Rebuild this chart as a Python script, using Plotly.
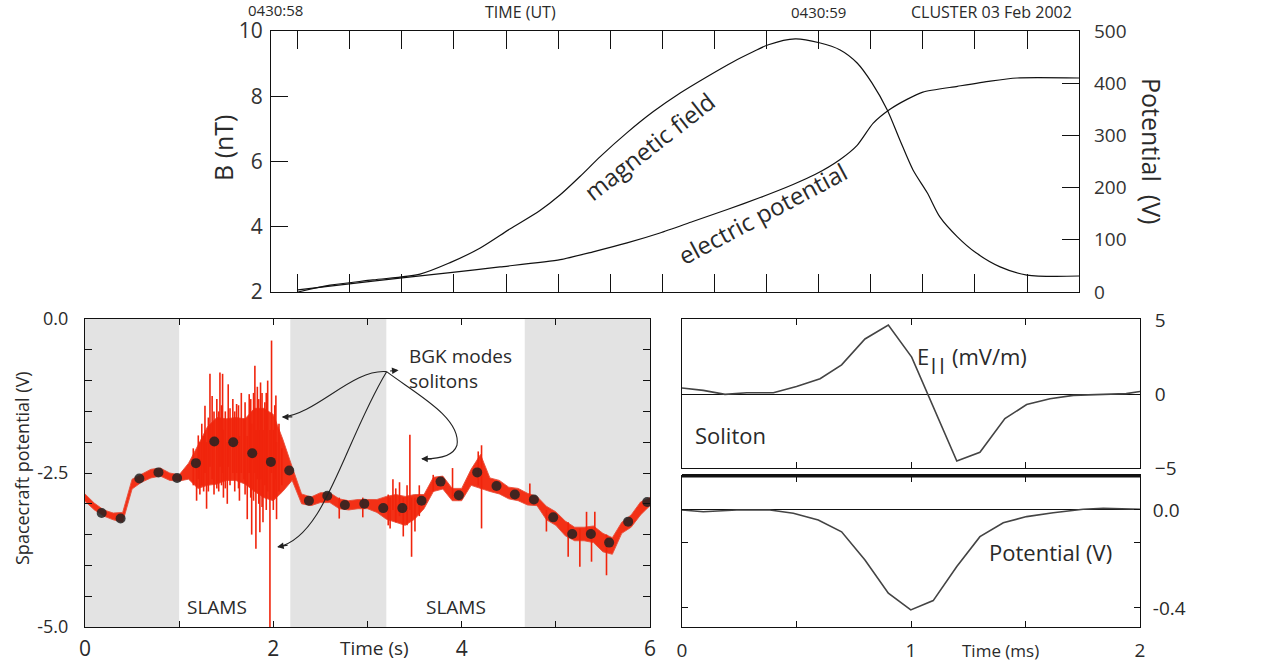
import plotly.graph_objects as go

W, H = 1287, 669
def px(x): return x / W
def py(y): return 1 - y / H

# ---------------- top panel data (seconds after 04:30:58) ----------------
b_t = [0.049, 0.108, 0.186, 0.272, 0.327, 0.382, 0.436, 0.491, 0.528, 0.564, 0.601, 0.649,
       0.698, 0.747, 0.796, 0.844, 0.881, 0.908, 0.957, 1.001, 1.039, 1.070, 1.097, 1.125,
       1.148, 1.172, 1.198, 1.221, 1.253, 1.287, 1.331, 1.380, 1.475]
b_nT = [2.0, 2.21, 2.37, 2.55, 2.90, 3.35, 3.93, 4.50, 4.98, 5.54, 6.15, 6.87,
        7.53, 8.10, 8.60, 9.06, 9.37, 9.58, 9.76, 9.64, 9.42, 9.02, 8.41, 7.58,
        6.66, 5.74, 5.04, 4.30, 3.69, 3.20, 2.77, 2.52, 2.49]
phi_t = [0.049, 0.186, 0.327, 0.418, 0.528, 0.588, 0.650, 0.710, 0.770, 0.833, 0.893,
         0.953, 0.993, 1.039, 1.070, 1.099, 1.130, 1.161, 1.190, 1.253, 1.313, 1.362, 1.475]
phi_V = [4, 21, 37, 48, 62, 77, 94, 113, 135, 158, 181,
         206, 225, 254, 281, 323, 350, 369, 383, 394, 404, 410, 410]
b_ticks = [2, 4, 6, 8, 10]
phi_ticks = [0, 100, 200, 300, 400, 500]

# ---------------- bottom-left: spacecraft potential ----------------
sc_t = [round(0.1 * i, 1) for i in range(61)]
sc_upper = [-2.84, -2.99, -3.10, -3.15, -3.14, -2.60, -2.52, -2.44, -2.42, -2.50,
            -2.53, -2.34, -2.05, -1.75, -1.60, -1.62, -1.60, -1.62, -1.45, -1.45,
            -1.55, -1.95, -2.40, -2.84, -2.89, -2.82, -2.82, -2.92, -2.95, -2.93,
            -2.93, -2.93, -2.88, -2.85, -2.88, -2.85, -2.85, -2.57, -2.55, -2.75,
            -2.75, -2.44, -2.20, -2.58, -2.62, -2.73, -2.75, -2.83, -2.88, -3.04,
            -3.13, -3.28, -3.38, -3.38, -3.36, -3.48, -3.55, -3.30, -3.18, -2.97, -2.90]
sc_lower = [-2.96, -3.10, -3.20, -3.26, -3.30, -2.76, -2.65, -2.58, -2.55, -2.62,
            -2.63, -2.60, -2.75, -2.70, -2.68, -2.62, -2.62, -2.68, -2.80, -2.90,
            -2.95, -2.80, -2.62, -3.00, -3.03, -2.98, -2.98, -3.08, -3.10, -3.08,
            -3.08, -3.14, -3.25, -3.30, -3.35, -3.25, -3.08, -2.80, -2.76, -2.95,
            -2.95, -2.70, -2.75, -2.80, -2.84, -2.92, -2.95, -3.02, -3.03, -3.26,
            -3.35, -3.52, -3.60, -3.60, -3.63, -3.78, -3.82, -3.48, -3.38, -3.18, -3.03]
spike_t = [1.15, 1.185, 1.203, 1.22, 1.24, 1.26, 1.274, 1.291, 1.31, 1.327, 1.35, 1.37, 1.40, 1.42,
           1.433, 1.45, 1.461, 1.47, 1.49, 1.511, 1.521, 1.54, 1.57, 1.59, 1.61, 1.63, 1.64, 1.66,
           1.688, 1.70, 1.723, 1.744, 1.76, 1.77, 1.79, 1.804, 1.815, 1.83, 1.845, 1.857, 1.864,
           1.88, 1.89, 1.91, 1.925, 1.94, 1.964, 1.981, 2.0, 2.015, 2.027, 2.034, 2.06, 2.09,
           2.70, 2.95, 3.22, 3.24, 3.27, 3.30, 3.34, 3.38, 3.42, 3.45, 3.468, 3.504, 3.55, 3.698,
           3.903, 4.176, 4.211, 4.724, 4.90, 5.131, 5.255, 5.326, 5.379, 5.414, 5.538]
spike_hi = [-2.1, -2.3, -1.89, -2.0, -1.70, -1.9, -1.41, -2.0, -1.6, -0.89, -1.25, -1.5, -1.30, -1.5,
            -0.87, -1.4, -0.89, -1.8, -1.5, -2.0, -1.06, -1.45, -1.30, -1.5, -1.38, -1.4, -1.9, -1.20,
            -1.62, -1.35, -1.9, -1.22, -1.3, -1.7, -1.2, -0.76, -1.8, -1.10, -1.3, -1.8, -1.03,
            -1.2, -1.8, -1.35, -1.2, -1.0, -1.8, -0.35, -1.8, -1.4, -1.24, -2.0, -1.7, -2.1,
            -2.9, -2.9, -2.85, -2.9, -2.6, -2.75, -2.65, -2.9, -2.7, -1.88, -2.9, -2.9, -2.7, -2.53,
            -2.42, -2.15, -2.05, -2.67, -3.1, -3.3, -3.4, -3.13, -3.4, -3.13, -3.5]
spike_lo = [-2.7, -2.95, -2.6, -2.85, -2.7, -2.8, -2.5, -3.08, -2.8, -2.4, -2.6, -2.85, -2.75, -2.8,
            -2.4, -2.7, -2.5, -2.9, -2.75, -3.0, -2.4, -2.7, -2.5, -2.8, -2.5, -2.75, -2.95, -2.5,
            -2.6, -2.85, -3.25, -2.5, -2.9, -3.5, -2.95, -2.5, -3.73, -2.6, -3.0, -3.46, -2.6,
            -3.05, -3.3, -2.7, -3.1, -2.8, -5.0, -2.5, -3.1, -2.9, -2.6, -3.25, -2.8, -2.7,
            -3.24, -3.22, -3.35, -3.4, -3.1, -3.3, -3.2, -3.53, -3.35, -3.1, -3.86, -3.45, -3.2, -2.8,
            -2.9, -2.7, -3.40, -3.0, -3.45, -3.86, -4.02, -3.5, -3.94, -3.5, -4.16]
dot_t = [0.177, 0.378, 0.577, 0.78, 0.978, 1.178, 1.373, 1.574, 1.776, 1.974, 2.169, 2.378,
         2.573, 2.76, 2.966, 3.167, 3.37, 3.574, 3.776, 3.97, 4.165, 4.37, 4.565, 4.767,
         4.972, 5.174, 5.372, 5.566, 5.768, 5.97]
dot_V = [-3.15, -3.24, -2.59, -2.49, -2.58, -2.34, -1.99, -2.00, -2.18, -2.32, -2.46, -2.95,
         -2.87, -3.02, -3.00, -3.07, -3.07, -2.95, -2.64, -2.86, -2.49, -2.71, -2.85, -2.93,
         -3.22, -3.49, -3.49, -3.63, -3.29, -2.97]
gray_spans = [(0.0, 1.0), (2.18, 3.2), (4.67, 6.0)]
slams_t = [1.40, 3.94]
sc_tickvals = [0.0, -0.5, -1.0, -1.5, -2.0, -2.5, -3.0, -3.5, -4.0, -4.5, -5.0]
sc_ticktext = ["0.0", "", "", "", "", "-2.5", "", "", "", "", "-5.0"]
t_tickvals = [0, 1, 2, 3, 4, 5, 6]
t_ticktext = ["0", "", "2", "", "4", "", "6"]

# ---------------- bottom-right: soliton ----------------
e_t = [0, 0.093, 0.188, 0.283, 0.399, 0.5, 0.603, 0.697, 0.799, 0.901, 1.003, 1.069,
       1.2, 1.301, 1.41, 1.505, 1.607, 1.709, 1.84, 1.94, 2.0]
e_mV = [0.43, 0.27, 0.0, 0.11, 0.11, 0.54, 1.06, 2.0, 3.75, 4.69, 2.52, 0.16,
        -4.51, -3.92, -1.64, -0.69, -0.29, -0.07, -0.02, 0.05, 0.2]
pot_t = [0, 0.093, 0.239, 0.384, 0.486, 0.595, 0.697, 0.799, 0.901, 0.999, 1.097, 1.2,
         1.301, 1.403, 1.505, 1.621, 1.752, 1.84, 2.0]
pot_V = [0, -0.007, 0, 0, -0.013, -0.041, -0.089, -0.204, -0.340, -0.408, -0.370, -0.231,
         -0.109, -0.052, -0.027, -0.011, 0.003, 0.007, 0.003]
pot_tickvals = [0.0, -0.133, -0.4]
pot_ticktext = ["0.0", "", "-0.4"]

FONT = "Open Sans"
TXT = "#2a2a2a"
fig = go.Figure()

# top panel
fig.add_trace(go.Scatter(x=b_t, y=b_nT, mode="lines", line=dict(color="#111", width=1.2, shape="spline", smoothing=0.8),
                         xaxis="x", yaxis="y", showlegend=False, hoverinfo="skip"))
fig.add_trace(go.Scatter(x=phi_t, y=phi_V, mode="lines", line=dict(color="#111", width=1.2, shape="spline", smoothing=0.6),
                         xaxis="x", yaxis="y2", showlegend=False, hoverinfo="skip"))

# bottom-left red band
fig.add_trace(go.Scatter(x=sc_t + sc_t[::-1], y=sc_upper + sc_lower[::-1], mode="lines", fill="toself",
                         fillcolor="rgb(243,48,22)", line=dict(color="rgba(232,80,60,0.9)", width=1),
                         xaxis="x2", yaxis="y3", showlegend=False, hoverinfo="skip"))
sx, sy = [], []
for t, hi, lo in zip(spike_t, spike_hi, spike_lo):
    sx += [t, t, None]
    sy += [lo, hi, None]
fig.add_trace(go.Scatter(x=sx, y=sy, mode="lines", line=dict(color="rgb(240,36,12)", width=1.6),
                         xaxis="x2", yaxis="y3", showlegend=False, hoverinfo="skip"))
fig.add_trace(go.Scatter(x=dot_t, y=dot_V, mode="markers", marker=dict(color="#222", size=10, opacity=0.85),
                         xaxis="x2", yaxis="y3", showlegend=False, hoverinfo="skip"))

# bottom-right
fig.add_trace(go.Scatter(x=e_t, y=e_mV, mode="lines", line=dict(color="#444", width=1.6),
                         xaxis="x3", yaxis="y4", showlegend=False, hoverinfo="skip"))
fig.add_trace(go.Scatter(x=pot_t, y=pot_V, mode="lines", line=dict(color="#444", width=1.6),
                         xaxis="x4", yaxis="y5", showlegend=False, hoverinfo="skip"))

ax_common = dict(showgrid=False, zeroline=False, showline=True, linecolor="#111", automargin=False)
tickf = dict(family=FONT, size=19, color=TXT)

shapes = []
for a, b in gray_spans:
    shapes.append(dict(type="rect", xref="x2", yref="y3", x0=a, x1=b, y0=-5, y1=0,
                       fillcolor="#e3e3e3", line=dict(width=0), layer="below"))
arrow_paths = [
    "M 3.203,-0.855 C 2.85,-0.80 2.45,-1.55 2.10,-1.59",
    "M 3.203,-0.855 C 2.75,-2.0 2.55,-3.55 2.05,-3.70",
    "M 3.203,-0.855 C 3.5,-1.2 4.0,-1.6 3.95,-2.05 Q 3.9,-2.28 3.58,-2.27",
]
for p in arrow_paths:
    shapes.append(dict(type="path", xref="x2", yref="y3", path=p, line=dict(color="#222", width=1.1)))
shapes.append(dict(type="line", xref="paper", yref="paper", x0=px(682), x1=px(1141),
                   y0=py(475.7), y1=py(475.7), line=dict(color="#111", width=3.5)))

ann = []
def A(text, x, y, size, **kw):
    d = dict(text=text, x=x, y=y, showarrow=False, font=dict(family=FONT, size=size, color=TXT),
             xref=kw.pop("xref", "paper"), yref=kw.pop("yref", "paper"),
             xanchor=kw.pop("xanchor", "center"), yanchor=kw.pop("yanchor", "middle"))
    d.update(kw)
    ann.append(d)

A("0430:58", 0.008, py(10), 15, xref="x")
A("TIME (UT)", px(520), py(12), 16)
A("0430:59", 1.0, py(12), 15, xref="x")
A("CLUSTER 03 Feb 2002", px(1074), py(12), 16, xanchor="right")
A("B (nT)", px(223), py(148), 25, textangle=-90)
A("Potential  (V)", px(1152), py(151), 25, textangle=90)
A("magnetic field", px(649), py(147), 24, textangle=-38)
A("electric potential", px(762), py(213), 24, textangle=-28)

A("Spacecraft potential (V)", px(22), py(468), 18, textangle=-90)
A("Time (s)", px(374), py(648), 19)
for t in slams_t:
    A("SLAMS", t, -4.675, 19, xref="x2", yref="y3")
A("BGK modes<br>solitons", 3.42, -0.80, 19, xref="x2", yref="y3", xanchor="left", align="left")
for tip, dx, dy in [((2.09, -1.59), 12, 0), ((2.04, -3.70), 12, -2), ((3.57, -2.27), 12, 0), ((3.33, -0.83), -10, 1)]:
    ann.append(dict(x=tip[0], y=tip[1], xref="x2", yref="y3", ax=dx, ay=dy, text="", showarrow=True,
                    arrowhead=2, arrowsize=1.1, arrowwidth=1.2, arrowcolor="#222", standoff=0))

A("E<sub><b>||</b></sub> (mV/m)", px(915), py(358), 22, xanchor="left")
A("Soliton", px(730), py(435), 22)
A("Potential (V)", px(1050), py(552), 22)
A("Time (ms)", px(1000), py(650), 17)

fig.update_layout(
    width=W, height=H, margin=dict(l=0, r=0, t=0, b=0), template="none",
    paper_bgcolor="white", plot_bgcolor="rgba(0,0,0,0)",
    font=dict(family=FONT, color=TXT),
    shapes=shapes, annotations=ann, showlegend=False,
    xaxis=dict(ax_common, domain=[px(271), px(1079)], anchor="y", range=[0, 1.475], tick0=0.0487, dtick=0.0951,
               ticks="inside", ticklen=18, tickcolor="#111", mirror="ticks", showticklabels=False, linewidth=1.3),
    yaxis=dict(ax_common, domain=[py(292), py(31)], anchor="x", range=[2, 10], tickvals=b_ticks,
               ticks="inside", ticklen=17, tickcolor="#111", tickfont=dict(family=FONT, size=21, color="#333"),
               ticklabelstandoff=3, linewidth=1.3),
    yaxis2=dict(ax_common, overlaying="y", side="right", anchor="x", range=[0, 500], tickvals=phi_ticks,
                ticks="inside", ticklen=17, tickcolor="#111", tickfont=dict(family=FONT, size=19, color="#333"),
                ticklabelstandoff=10, linewidth=1.3),
    xaxis2=dict(ax_common, domain=[px(85), px(650)], anchor="y3", range=[0, 6], tickvals=t_tickvals, ticktext=t_ticktext,
                ticks="inside", ticklen=6, tickcolor="#111", mirror="ticks",
                tickfont=dict(family=FONT, size=21, color=TXT), ticklabelstandoff=3),
    yaxis3=dict(ax_common, domain=[py(627), py(319)], anchor="x2", range=[-5, 0], tickvals=sc_tickvals, ticktext=sc_ticktext,
                ticks="inside", ticklen=7, tickcolor="#111", mirror="ticks", tickfont=dict(family=FONT, size=18, color=TXT),
                ticklabelstandoff=12),
    xaxis3=dict(ax_common, domain=[px(682), px(1140)], anchor="y4", range=[0, 2], tickvals=[0.5, 1, 1.5],
                ticks="inside", ticklen=6, tickcolor="#111", mirror="ticks", showticklabels=False),
    yaxis4=dict(ax_common, domain=[py(468.3), py(319)], anchor="x3", side="right", range=[-5.0, 5.1], tickvals=[5, 0, -5],
                ticks="", mirror=True, tickfont=tickf, ticklabelstandoff=10,
                zeroline=True, zerolinecolor="#111", zerolinewidth=1),
    xaxis4=dict(ax_common, domain=[px(682), px(1140)], anchor="y5", range=[0, 2], tickvals=[0, 0.5, 1, 1.5, 2],
                ticktext=["0", "", "1", "", "2"], ticks="inside", ticklen=6, tickcolor="#111", mirror="ticks",
                tickfont=tickf, ticklabelstandoff=6),
    yaxis5=dict(ax_common, domain=[py(627.3), py(475.7)], anchor="x4", side="right", range=[-0.479, 0.14],
                tickvals=pot_tickvals, ticktext=pot_ticktext, ticks="inside", ticklen=6, tickcolor="#111", mirror="ticks",
                tickfont=tickf, ticklabelstandoff=8, zeroline=True, zerolinecolor="#111", zerolinewidth=1),
)
fig.write_html("out.html")
